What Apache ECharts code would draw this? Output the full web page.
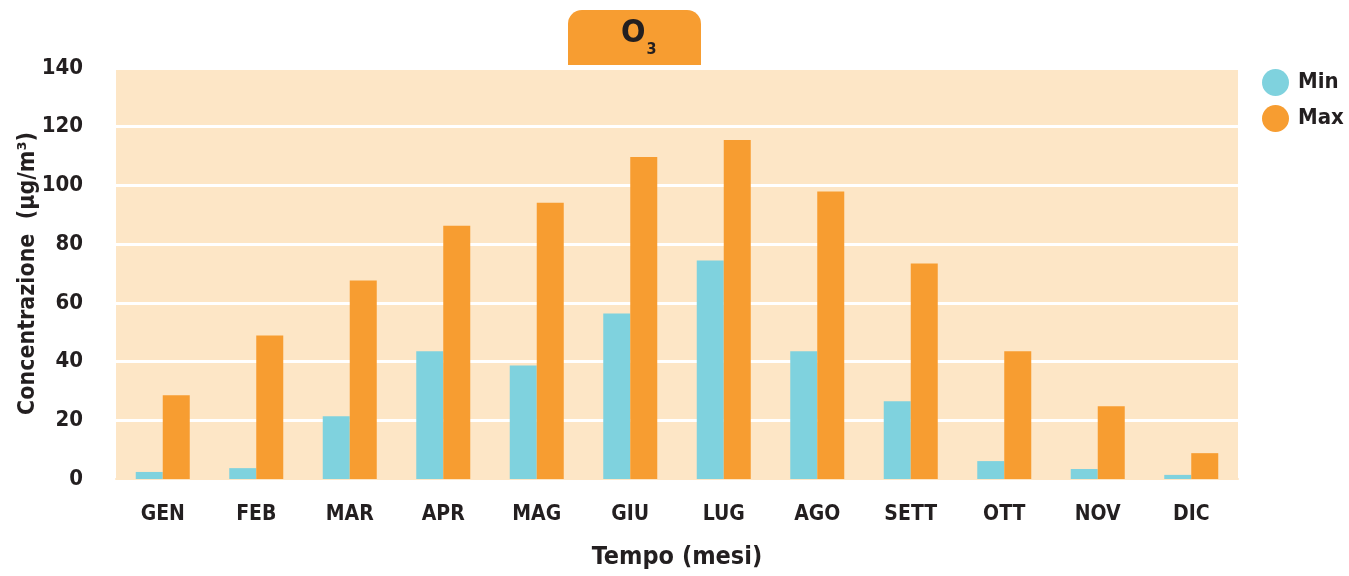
<!DOCTYPE html>
<html>
<head>
<meta charset="utf-8">
<script src="https://cdn.jsdelivr.net/npm/echarts@6/dist/echarts.min.js"></script>
<style>
  html, body { margin: 0; padding: 0; background: #fff; }
  #chart { width: 1349px; height: 576px; }
</style>
</head>
<body>
<div id="chart"></div>
<script>
// mesi
const mesi = ['GEN', 'FEB', 'MAR', 'APR', 'MAG', 'GIU', 'LUG', 'AGO', 'SETT', 'OTT', 'NOV', 'DIC'];
// concentrazioni O3 (µg/m3)
const minVals = [2.4, 3.7, 21.4, 43.5, 38.7, 56.4, 74.4, 43.5, 26.5, 6.1, 3.4, 1.4];
const maxVals = [28.5, 48.9, 67.6, 86.3, 94.1, 109.7, 115.5, 97.9, 73.4, 43.5, 24.8, 8.8];
const yTicks = [0, 20, 40, 60, 80, 100, 120, 140];

const font = '"Liberation Sans Narrow", "DejaVu Sans Condensed", "Roboto", sans-serif';
const txt = '#231f20';

let chart = echarts.init(document.getElementById('chart'));

chart.setOption({
    animation: false,
    color: ['#7fd2de', '#f79d31'],
    textStyle: { fontFamily: font },
    grid: {
        left: 116,
        right: 111,
        top: 68,
        bottom: 97,
        outerBoundsMode: 'none',
        containLabel: false,
        show: true,
        backgroundColor: '#fde6c6',
        borderWidth: 0
    },
    legend: {
        orient: 'vertical',
        left: 1257,
        top: 64,
        icon: 'circle',
        itemWidth: 27,
        itemHeight: 27,
        itemGap: 9,
        textStyle: {
            color: txt,
            fontSize: 22,
            fontWeight: 'bold',
            fontFamily: font,
            padding: [0, 0, 0, 4]
        },
        data: ['Min', 'Max']
    },
    graphic: [{
        type: 'rect',
        left: 568,
        top: 10,
        shape: { width: 133, height: 55, r: [14, 14, 0, 0] },
        style: { fill: '#f79d31' },
        z: 10
    }, {
        type: 'text',
        left: 621,
        top: 18,
        style: {
            text: '{o|O}{s|3}',
            rich: {
                o: { fontSize: 32, fontWeight: 'bold', fill: txt, fontFamily: font, verticalAlign: 'top' },
                s: { fontSize: 16, fontWeight: 'bold', fill: txt, fontFamily: font, padding: [24, 0, 0, 1] }
            }
        },
        z: 11
    }],
    xAxis: {
        type: 'category',
        data: mesi,
        name: 'Tempo (mesi)',
        nameLocation: 'middle',
        nameGap: 66,
        nameMoveOverlap: false,
        nameTextStyle: { color: txt, fontSize: 25, fontWeight: 'bold', fontFamily: font },
        axisTick: { show: false },
        axisLine: { show: true, lineStyle: { color: '#fde6c6', width: 2 } },
        axisLabel: {
            color: txt,
            fontSize: 21,
            fontWeight: 'bold',
            margin: 25,
            fontFamily: font
        }
    },
    yAxis: {
        type: 'value',
        min: yTicks[0],
        max: yTicks[yTicks.length - 1],
        interval: 20,
        name: 'Concentrazione  (µg/m³)',
        nameLocation: 'middle',
        nameGap: 76,
        nameMoveOverlap: false,
        nameRotate: 90,
        nameTextStyle: { color: txt, fontSize: 23, fontWeight: 'bold', fontFamily: font },
        axisLine: { show: false },
        axisTick: { show: false },
        splitLine: { show: true, lineStyle: { color: '#ffffff', width: 3 } },
        axisLabel: {
            color: txt,
            fontSize: 22,
            fontWeight: 'bold',
            margin: 33,
            fontFamily: font
        }
    },
    series: [{
        name: 'Min',
        type: 'bar',
        data: minVals,
        barWidth: 27,
        barGap: '0%'
    }, {
        name: 'Max',
        type: 'bar',
        data: maxVals,
        barWidth: 27,
        barGap: '0%'
    }]
});
</script>
</body>
</html>
